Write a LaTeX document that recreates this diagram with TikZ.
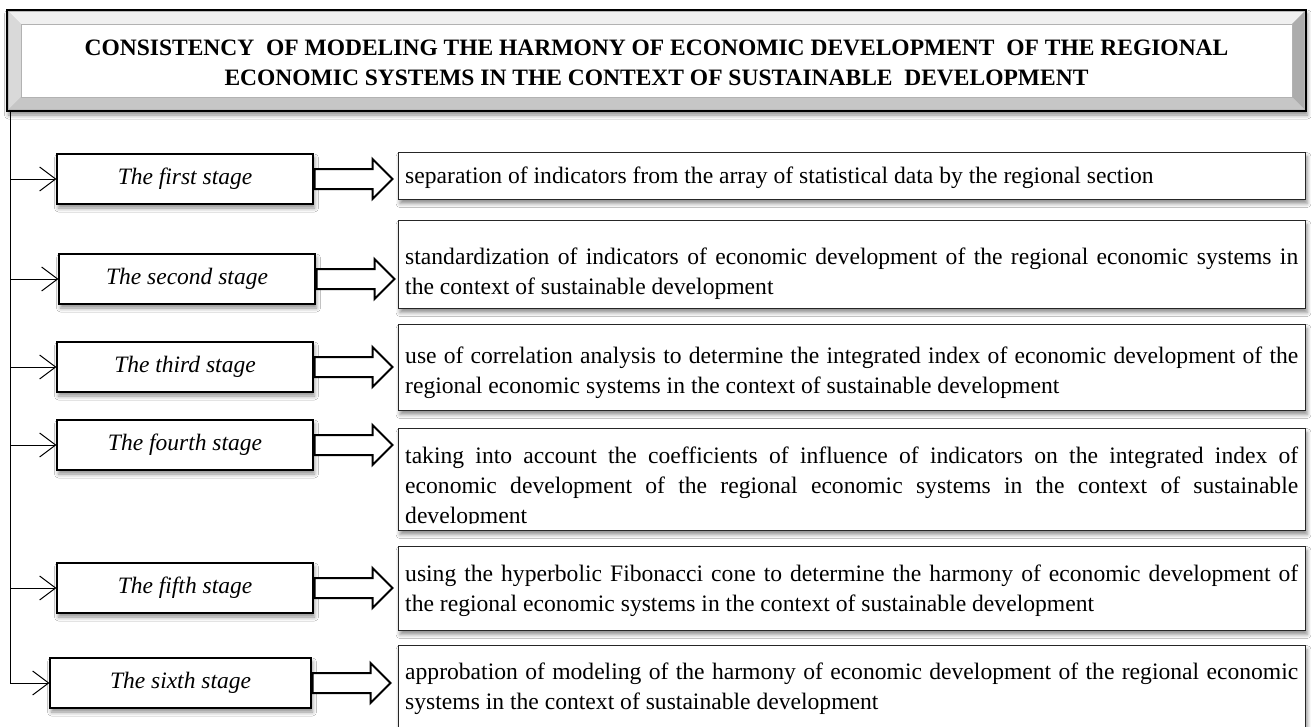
\documentclass[tikz,border=0pt]{standalone}
\usepackage{fontspec}
\setmainfont{Liberation Serif}
\usetikzlibrary{shapes,arrows.meta}
\usetikzlibrary{positioning,calc,shadows.blur}
\hyphenpenalty=10000
\exhyphenpenalty=10000

\begin{document}
\begin{tikzpicture}[x=1pt,y=-1pt]
\tikzset{myFont/.style={font=\fontsize{23.6}{30}\selectfont}}
\tikzset{myShadow/.style={blur shadow={shadow xshift=1.5pt,shadow yshift=-4pt,shadow blur radius=4pt,shadow opacity=45}}}
\tikzset{stageBox/.style={draw,line width=1.1pt,fill=white,minimum width=256pt,minimum height=50pt,inner sep=0pt,font=\fontsize{23.5}{30}\selectfont\itshape,myShadow}}
\tikzset{descText/.style={anchor=north west,text width=893pt,inner xsep=7pt,inner ysep=0pt,align=justify,myFont}}
\tikzset{descBox/.style={anchor=north west,draw=black!85,line width=1.1pt,fill=white,minimum width=907pt,inner sep=0pt,myShadow}}
\tikzset{fatArrow/.style={single arrow,draw,line width=2pt,fill=white,minimum height=78pt,minimum width=0pt,inner xsep=0pt,inner ysep=9pt,single arrow head extend=10pt,anchor=tail}}
\tikzset{feed/.style={line width=1pt,-{Straight Barb[length=16pt,width=24pt,line width=1pt]}}}

\fill[white] (0,0) rectangle (1311,726);
\useasboundingbox (0,0) rectangle (1311,726);

% heading with bevelled frame
\node[draw,line width=2pt,fill=gray!55,minimum width=1299pt,minimum height=101pt,inner sep=0pt,myShadow] (title) at (656.5,60.5) {};
\coordinate (oa) at ($(title.north west)+(3,3)$);
\coordinate (ob) at ($(title.north east)+(-3,3)$);
\coordinate (oc) at ($(title.south east)+(-3,-3)$);
\coordinate (od) at ($(title.south west)+(3,-3)$);
\coordinate (ia) at ($(title.north west)+(15,15)$);
\coordinate (ib) at ($(title.north east)+(-15,15)$);
\coordinate (ic) at ($(title.south east)+(-15,-15)$);
\coordinate (id) at ($(title.south west)+(15,-15)$);
\fill[gray!12] (oa) -- (ob) -- (ib) -- (ia) -- cycle;
\fill[gray!30] (oa) -- (ia) -- (id) -- (od) -- cycle;
\fill[gray!65] (ob) -- (oc) -- (ic) -- (ib) -- cycle;
\fill[gray!45] (od) -- (oc) -- (ic) -- (id) -- cycle;
\draw[gray!60,fill=white] (ia) rectangle (ic);
\node[align=center,font=\fontsize{23.5}{30}\selectfont\bfseries] (heading) at ($(title.center)+(0,2)$)
  {CONSISTENCY\ \ OF MODELING THE HARMONY OF ECONOMIC DEVELOPMENT\ \ OF THE REGIONAL\\
   ECONOMIC SYSTEMS IN THE CONTEXT OF SUSTAINABLE\ \ DEVELOPMENT};

% stages
\node[stageBox] (s1) at (185,179) {The first stage};
\node[stageBox] (s2) at (187,279) {The second stage};
\node[stageBox] (s3) at (185,367) {The third stage};
\node[stageBox] (s4) at (185,445) {The fourth stage};
\node[stageBox] (s5) at (185,588) {The fifth stage};
\node[stageBox,minimum width=261pt] (s6) at (180.5,683) {The sixth stage};

\coordinate (trunk) at ($(title.south west)+(4,0)$);
\draw[feed] (trunk) |- (s6.west);
\foreach \s in {s1,s2,s3,s4,s5}
  \draw[feed] (trunk |- \s.west) -- (\s.west);

% description frames
\foreach \n/\top/\h in {1/152/47,2/220/88,3/324/86,4/428/102,5/546/84,6/645/86}
  \node[descBox,minimum height=\h pt] (d\n) at (398,\top) {};

% description texts
\node[descText] (t1) at ($(d1.north west)+(0,15)$)
  {separation of indicators from the array of statistical data by the regional section};
\node[descText] (t2) at ($(d2.north west)+(0,28)$)
  {standardization of indicators of economic development of the regional economic systems in\linebreak
   the context of sustainable development};
\node[descText] (t3) at ($(d3.north west)+(0,23)$)
  {use of correlation analysis to determine the integrated index of economic development of the\linebreak
   regional economic systems in the context of sustainable development};
\begin{scope}
\clip (d4.north west) rectangle ($(d4.south east)+(0,-8)$);
\node[descText] (t4) at ($(d4.north west)+(0,19)$)
  {taking into account the coefficients of influence of indicators on the integrated index of\linebreak
   economic development of the regional economic systems in the context of sustainable\linebreak
   development};
\end{scope}
\node[descText] (t5) at ($(d5.north west)+(0,19)$)
  {using the hyperbolic Fibonacci cone to determine the harmony of economic development of\linebreak
   the regional economic systems in the context of sustainable development};
\node[descText] (t6) at ($(d6.north west)+(0,18)$)
  {approbation of modeling of the harmony of economic development of the regional economic\linebreak
   systems in the context of sustainable development};

\foreach \i in {1,...,6}
  \node[fatArrow] (a\i) at (s\i.east) {};

\end{tikzpicture}
\end{document}
